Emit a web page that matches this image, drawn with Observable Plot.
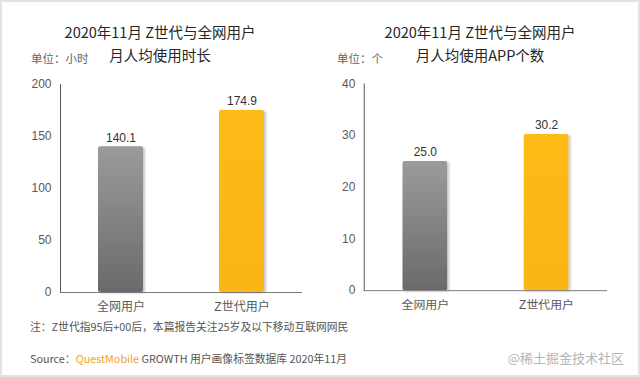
<!DOCTYPE html>
<html>
<head>
<meta charset="utf-8">
<script src="https://cdn.jsdelivr.net/npm/d3@7"></script>
<script src="https://cdn.jsdelivr.net/npm/@observablehq/plot@0.6"></script>
<style>
  html, body { margin: 0; padding: 0; background: #fff; }
  #wrap { position: relative; width: 640px; height: 377px; box-sizing: border-box; border: 2px solid #e3e3e3; overflow: hidden; background: #fff; }
  .abs { position: absolute; white-space: nowrap; }
  .title { font-family: "Noto Sans CJK SC", sans-serif; font-size: 14.5px; color: #262626; text-align: center; width: 320px; line-height: 20px; }
  .unit { font-family: "Noto Sans CJK SC", sans-serif; font-size: 11.5px; color: #666; }
  .foot { font-family: "Noto Sans CJK SC", sans-serif; font-size: 10.8px; color: #555; }
  .plot { position: absolute; top: -2px; }
</style>
</head>
<body>
<div id="wrap">
  <div id="left" class="plot" style="left:-2px;"></div>
  <div id="right" class="plot" style="left:318px;"></div>
  <div class="abs title" style="left:-2px; top:20px;">2020年11月 Z世代与全网用户</div>
  <div class="abs title" style="left:-2px; top:43px;">月人均使用时长</div>
  <div class="abs title" style="left:318px; top:20px;">2020年11月 Z世代与全网用户</div>
  <div class="abs title" style="left:318px; top:43px;">月人均使用APP个数</div>
  <div class="abs unit" style="left:29px; top:48px;">单位：小时</div>
  <div class="abs unit" style="left:335px; top:48px;">单位：个</div>
  <div class="abs foot" style="left:28px; top:316px;">注：Z世代指95后+00后，本篇报告关注25岁及以下移动互联网网民</div>
  <div class="abs foot" style="left:28px; top:348px;">Source：<span style="color:#f5a31a;">QuestMobile</span> GROWTH 用户画像标签数据库 2020年11月</div>
  <div class="abs foot" style="right:14px; top:346px; color:#b5b5b5; font-size:13px;">@稀土掘金技术社区</div>
</div>
<script>
const categories = ["全网用户", "Z世代用户"];
const hours = [140.1, 174.9];
const apps = [25.0, 30.2];
const hourTicks = [0, 50, 100, 150, 200];
const appTicks = [0, 10, 20, 30, 40];

function defsMark(id) {
  return () => {
    const g = d3.create("svg:g");
    const defs = g.append("defs");
    const gg = defs.append("linearGradient").attr("id", "gray" + id).attr("x1", 0).attr("y1", 0).attr("x2", 0).attr("y2", 1);
    gg.append("stop").attr("offset", "0%").attr("stop-color", "#9b9b9b");
    gg.append("stop").attr("offset", "100%").attr("stop-color", "#6a6a6a");
    const yg = defs.append("linearGradient").attr("id", "yel" + id).attr("x1", 0).attr("y1", 0).attr("x2", 0).attr("y2", 1);
    yg.append("stop").attr("offset", "0%").attr("stop-color", "#fdbb14");
    yg.append("stop").attr("offset", "100%").attr("stop-color", "#fbb512");
    const f = defs.append("filter").attr("id", "sh" + id).attr("x", "-20%").attr("y", "-10%").attr("width", "150%").attr("height", "130%");
    f.append("feDropShadow").attr("dx", 2).attr("dy", 1).attr("stdDeviation", 1.2).attr("flood-color", "#000").attr("flood-opacity", 0.22);
    return g.node();
  };
}

function chart(values, ticks, id, ml, mr) {
  const data = categories.map((c, i) => ({cat: c, value: values[i]}));
  return Plot.plot({
    width: 320,
    height: 377,
    marginTop: 84,
    marginBottom: 85,
    marginLeft: ml,
    marginRight: mr,
    style: {fontFamily: "'Liberation Sans', 'Noto Sans CJK SC', sans-serif", fontSize: "12px", color: "#595959", background: "transparent", overflow: "visible"},
    x: {domain: categories, paddingInner: 0.63, paddingOuter: 0.315, label: null, tickSize: 0, tickPadding: 10},
    y: {domain: [ticks[0], ticks[ticks.length - 1]], ticks: ticks, label: null, tickSize: 0, tickPadding: 9, line: true},
    marks: [
      defsMark(id),
      Plot.barY(data.filter((d, i) => i === 0), {x: "cat", y: "value", fill: `url(#gray${id})`, rx: 2}),
      Plot.barY(data.filter((d, i) => i === 1), {x: "cat", y: "value", fill: `url(#yel${id})`, rx: 2}),
      Plot.ruleY([0], {stroke: "#7a7a7a"}),
      Plot.text(data, {x: "cat", y: "value", text: d => d3.format(".1f")(d.value), dy: -9, fill: "#333", fontSize: 12})
    ]
  });
}

const L = chart(hours, hourTicks, "L", 60, 18);
const R = chart(apps, appTicks, "R", 44, 31);
document.getElementById("left").appendChild(L);
document.getElementById("right").appendChild(R);
for (const [svg, id] of [[L, "L"], [R, "R"]]) {
  svg.querySelectorAll("g[aria-label='bar'] rect").forEach(r => r.setAttribute("filter", `url(#sh${id})`));
}
</script>
</body>
</html>
